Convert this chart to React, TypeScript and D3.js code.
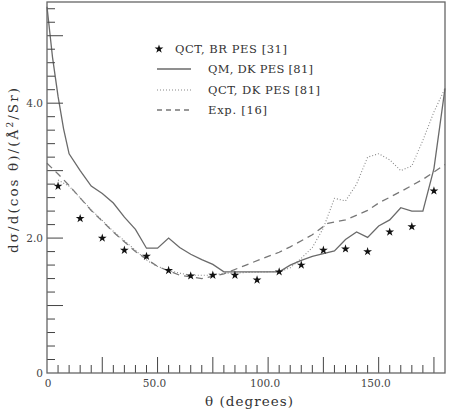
import React from "react";
import * as d3 from "d3";

// Scattering angle grid (degrees) and cross sections (Å²/Sr)
const starAngles = [5, 15, 25, 35, 45, 55, 65, 75, 85, 95, 105, 115, 125, 135, 145, 155, 165, 175];
const starValues = [2.77, 2.29, 2.0, 1.82, 1.73, 1.52, 1.44, 1.45, 1.45, 1.38, 1.5, 1.6, 1.82, 1.84, 1.8, 2.09, 2.17, 2.7];

const qmAngles = [0, 2.5, 5, 7.5, 10, 15, 20, 25, 30, 35, 40, 45, 50, 55, 60, 65, 70, 75, 80, 85, 90, 95, 100, 105, 110, 115, 120, 125, 130, 135, 140, 145, 150, 155, 160, 165, 170, 175, 180];
const qmValues = [5.43, 4.68, 4.1, 3.62, 3.25, 3.0, 2.77, 2.66, 2.52, 2.31, 2.13, 1.85, 1.85, 2.0, 1.86, 1.76, 1.68, 1.61, 1.5, 1.5, 1.5, 1.5, 1.5, 1.5, 1.6, 1.67, 1.73, 1.77, 1.81, 1.98, 2.09, 2.01, 2.18, 2.27, 2.45, 2.4, 2.4, 3.03, 4.22];

const qctAngles = [5, 10, 20, 30, 40, 45, 50, 55, 60, 65, 70, 75, 80, 85, 90, 100, 105, 110, 115, 120, 125, 130, 135, 140, 145, 150, 155, 160, 165, 170, 175, 180];
const qctValues = [2.86, 2.77, 2.42, 2.1, 1.82, 1.67, 1.58, 1.52, 1.48, 1.45, 1.45, 1.45, 1.48, 1.48, 1.49, 1.5, 1.5, 1.56, 1.7, 1.86, 2.15, 2.59, 2.55, 2.8, 3.2, 3.25, 3.16, 3.0, 3.07, 3.45, 3.87, 4.22];

const expAngles = [0, 5, 10, 20, 30, 40, 50, 60, 70, 80, 90, 100, 105, 110, 120, 127, 135, 145, 150, 160, 170, 180];
const expValues = [3.11, 2.95, 2.78, 2.41, 2.09, 1.8, 1.58, 1.45, 1.4, 1.47, 1.6, 1.73, 1.79, 1.87, 2.05, 2.22, 2.27, 2.41, 2.52, 2.69, 2.87, 3.09];

const xTickLabels = [0, 50, 100, 150];
const yTickLabels = [0, 2, 4];

const legendItems = ["QCT, BR PES [31]", "QM, DK PES [81]", "QCT, DK PES [81]", "Exp. [16]"];
const legendWidths = [112, 105, 112, 59];

const W = 450;
const H = 413;
const left = 47;
const right = 445;
const top = 2;
const bottom = 373;

const serif = "'DejaVu Serif', serif";

export default function App() {
  const x = d3.scaleLinear().domain([0, 180]).range([left, right]);
  const y = d3.scaleLinear().domain([0, 5.5]).range([bottom, top]);

  const line = d3
    .line<[number, number]>()
    .x((d) => x(d[0]))
    .y((d) => y(d[1]));

  const qm = line(qmAngles.map((a, i) => [a, qmValues[i]]));
  const qct = line(qctAngles.map((a, i) => [a, qctValues[i]]));
  const exp = line(expAngles.map((a, i) => [a, expValues[i]]));

  const star = d3.symbol().type(d3.symbolStar).size(24)();

  const xMinor = d3.range(5, 180, 5);
  const yMinor = d3.range(1, 28).map((k) => k * 0.2);

  const lineColor = "#6a6a6a";

  return (
    <svg
      width={W}
      height={H}
      style={{ position: "absolute", left: 0, top: 0, background: "#fff" }}
    >
      {/* data curves */}
      <path d={exp ?? ""} fill="none" stroke="#777" strokeWidth={1.3} strokeDasharray="7,5" />
      <path d={qct ?? ""} fill="none" stroke="#888" strokeWidth={1.1} strokeDasharray="1,2" />
      <path d={qm ?? ""} fill="none" stroke={lineColor} strokeWidth={1.3} />
      {starAngles.map((a, i) => (
        <path key={i} d={star ?? ""} transform={`translate(${x(a)},${y(starValues[i])})`} fill="#111" />
      ))}

      {/* ticks pointing inward */}
      {xMinor.map((t) => (
        <line
          key={"xt" + t}
          x1={x(t)}
          x2={x(t)}
          y1={bottom}
          y2={bottom - (t % 25 === 0 ? 16 : 8)}
          stroke="#444"
          strokeWidth={1}
        />
      ))}
      {yMinor.map((t, i) => (
        <line
          key={"yt" + i}
          x1={left}
          x2={left + ((i + 1) % 5 === 0 ? 16 : 8)}
          y1={y(t)}
          y2={y(t)}
          stroke="#444"
          strokeWidth={1}
        />
      ))}

      {/* frame */}
      <rect
        x={left}
        y={top}
        width={right - left}
        height={bottom - top}
        fill="none"
        stroke="#666"
        strokeWidth={1.3}
      />

      {/* tick labels */}
      {xTickLabels.map((t) => (
        <text
          key={"xl" + t}
          x={t === 0 ? x(t) + 1 : x(t) - 3}
          y={387}
          textAnchor="middle"
          fontFamily={serif}
          fontSize={10.5}
          fill="#444"
        >
          {t === 0 ? "0" : t.toFixed(1)}
        </text>
      ))}
      {yTickLabels.map((t) => (
        <text
          key={"yl" + t}
          x={43}
          y={y(t) + 4}
          textAnchor="end"
          fontFamily={serif}
          fontSize={10.5}
          fill="#444"
        >
          {t === 0 ? "0" : t.toFixed(1)}
        </text>
      ))}

      {/* axis titles */}
      <text
        x={205}
        y={406}
        textLength={88}
        fontFamily={serif}
        fontSize={13.5}
        fill="#333"
      >
        θ (degrees)
      </text>
      <text
        transform={`translate(18,253) rotate(-90)`}
        textLength={165}
        fontFamily={serif}
        fontSize={13.5}
        fill="#333"
      >
        dσ/d(cos θ)/(Å
        <tspan dy={-5} fontSize={9}>
          2
        </tspan>
        <tspan dy={5}>/Sr)</tspan>
      </text>

      {/* legend */}
      <path d={star ?? ""} transform={`translate(159,49)`} fill="#111" />
      <line x1={157} x2={191} y1={69} y2={69} stroke={lineColor} strokeWidth={1.3} />
      <line x1={157} x2={191} y1={90} y2={90} stroke="#888" strokeWidth={1.1} strokeDasharray="1,2" />
      <line x1={157} x2={191} y1={110} y2={110} stroke="#777" strokeWidth={1.3} strokeDasharray="5,4" />
      {legendItems.map((label, i) => (
        <text
          key={label}
          x={i === 0 ? 175 : 208}
          y={[53, 73, 94, 114][i]}
          textLength={legendWidths[i]}
          fontFamily={serif}
          fontSize={11.5}
          fill="#333"
        >
          {label}
        </text>
      ))}
    </svg>
  );
}
